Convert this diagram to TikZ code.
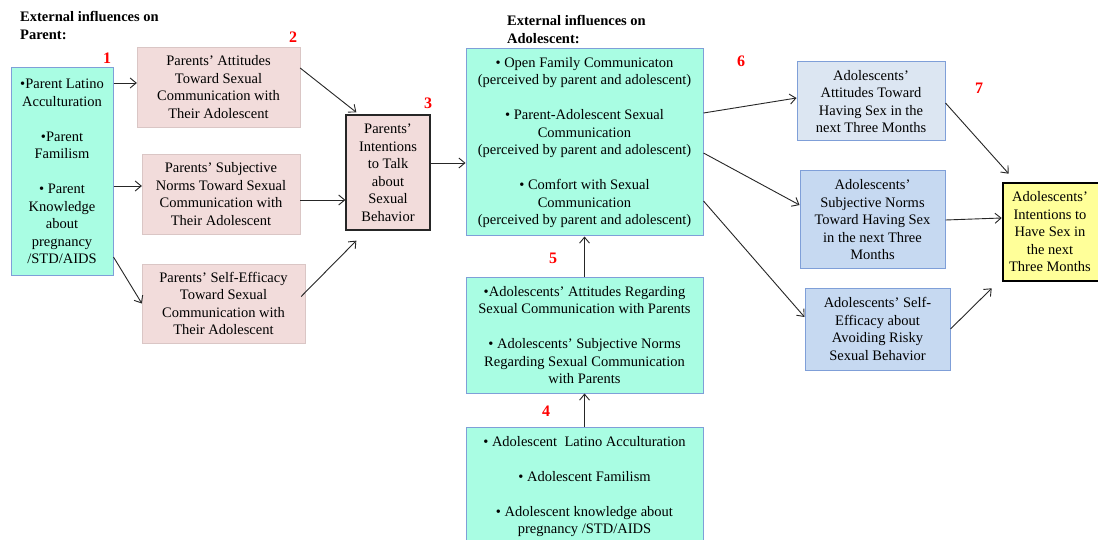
\documentclass[tikz,border=0pt]{standalone}
\usepackage{fontspec}
\setmainfont{Liberation Serif}
\usetikzlibrary{arrows.meta}
\definecolor{cyanfill}{HTML}{A9FDE3}
\definecolor{boxblue}{HTML}{7F9FD8}
\definecolor{pinkfill}{HTML}{F2DCDB}
\definecolor{lightblue}{HTML}{DCE6F2}
\definecolor{midblue}{HTML}{C6D9F1}
\definecolor{yellowfill}{HTML}{FFFF99}
\definecolor{numred}{HTML}{FF0000}
\tikzset{
  base/.style={rectangle, align=center, inner sep=0pt, font=\fontsize{14.5}{17.5}\selectfont},
  cyanbox/.style={base, fill=cyanfill, draw=boxblue, line width=1pt},
  pinkbox/.style={base, fill=pinkfill, draw=pinkfill!90!black, line width=0.3pt},
  darkbox/.style={base, fill=pinkfill, draw=black!85, line width=1.3pt},
  bluebox/.style={base, draw=boxblue, line width=1pt},
  yellowbox/.style={base, fill=yellowfill, draw=black, line width=2.6pt},
  header/.style={align=left, anchor=north west, inner sep=0pt, font=\fontsize{14.5}{18}\selectfont\bfseries},
  num/.style={text=numred, inner sep=0pt, font=\fontsize{16}{16}\selectfont\bfseries},
  conn/.style={-{Straight Barb[length=6pt,width=10pt]}, line width=0.9pt, black!85}
}
\begin{document}
\begin{tikzpicture}[x=1pt,y=-1pt]
\useasboundingbox (0,0) rectangle (1098,540);
\clip (0,0) rectangle (1098,540);
\fill[white] (0,0) rectangle (1098,540);

% headers
\node[header] (h1) at (20,11) {External influences on\\Parent:};
\node[header] (h2) at (507,15) {External influences on\\Adolescent:};

% left column
\node[cyanbox, minimum width=102pt, minimum height=207pt] (n1) at (62,171.5)
 {•Parent Latino\\Acculturation\\[17.5pt]•Parent\\Familism\\[17.5pt]• Parent\\Knowledge\\about\\pregnancy\\/STD/AIDS};

\node[pinkbox, minimum width=163pt, minimum height=80pt] (pa) at (218.5,87)
 {Parents’ Attitudes\\Toward Sexual\\Communication with\\Their Adolescent};
\node[pinkbox, minimum width=158pt, minimum height=80pt] (pb) at (221,194)
 {Parents’ Subjective\\Norms Toward Sexual\\Communication with\\Their Adolescent};
\node[pinkbox, minimum width=163pt, minimum height=79pt] (pc) at (223.5,303.5)
 {Parents’ Self-Efficacy\\Toward Sexual\\Communication with\\Their Adolescent};

\node[darkbox, minimum width=84pt, minimum height=115pt] (n3) at (388,172.5)
 {Parents’\\Intentions\\to Talk\\about\\Sexual\\Behavior};

% centre column
\node[cyanbox, minimum width=237pt, minimum height=187pt] (big) at (584.5,142.5)
 {• Open Family Communicaton\\(perceived by parent and adolescent)\\[17.5pt]• Parent-Adolescent Sexual\\Communication\\(perceived by parent and adolescent)\\[17.5pt]• Comfort with Sexual\\Communication\\(perceived by parent and adolescent)};
\node[cyanbox, minimum width=237pt, minimum height=116pt] (n5) at (584.5,335)
 {•Adolescents’ Attitudes Regarding\\Sexual Communication with Parents\\[17.5pt]• Adolescents’ Subjective Norms\\Regarding Sexual Communication\\with Parents};
\node[cyanbox, minimum width=237pt, minimum height=126pt] (n4) at (584.5,490)
 {};
\node[base, anchor=north] (n4t) at (584.5,436)
 {• Adolescent\ \ Latino Acculturation\\[17.5pt]• Adolescent Familism\\[17.5pt]• Adolescent knowledge about\\pregnancy /STD/AIDS};

% right column
\node[bluebox, fill=lightblue, minimum width=148pt, minimum height=79pt] (r1) at (871,101.5)
 {Adolescents’\\Attitudes Toward\\Having Sex in the\\next Three Months};
\node[bluebox, fill=midblue, minimum width=145pt, minimum height=98pt] (r2) at (872.5,220)
 {Adolescents’\\Subjective Norms\\Toward Having Sex\\in the next Three\\Months};
\node[bluebox, fill=midblue, minimum width=145pt, minimum height=82pt] (r3) at (877.5,329)
 {Adolescents’ Self-\\Efficacy about\\Avoiding Risky\\Sexual Behavior};
\node[yellowbox, minimum width=104pt, minimum height=98pt] (y) at (1055,232) {};
\node[base] (yt) at (1050,232)
 {Adolescents’\\Intentions to\\Have Sex in\\the next\\Three Months};

% numbers
\node[num] (l1) at (107,58) {1};
\node[num] (l2) at (293,37) {2};
\node[num] (l3) at (428,103) {3};
\node[num] (l4) at (546,411) {4};
\node[num] (l5) at (553,258) {5};
\node[num] (l6) at (741,61) {6};
\node[num] (l7) at (979,88) {7};

% connectors
\draw[conn] ([yshift=88.5pt]n1.east) -- ([yshift=4pt]pa.west);
\draw[conn] ([yshift=-14.5pt]n1.east) -- ([yshift=8pt]pb.west);
\draw[conn] ([yshift=-85.5pt]n1.east) -- (pc.west);
\draw[conn] ([yshift=19pt]pa.east) -- ([xshift=11pt,yshift=2pt]n3.north west);
\draw[conn] ([yshift=-6pt]pb.east) -- ([yshift=-27.5pt]n3.west);
\draw[conn] ([xshift=-4pt,yshift=7pt]pc.east) -- ([xshift=11pt,yshift=-10pt]n3.south west);
\draw[conn] ([yshift=9.5pt]n3.east) -- ([yshift=-20.5pt]big.west);
\draw[conn] ([yshift=29.5pt]big.east) -- ([yshift=3.5pt]r1.west);
\draw[conn] ([yshift=-10.5pt]big.east) -- ([yshift=15pt]r2.west);
\draw[conn] ([yshift=-58.5pt]big.east) -- ([yshift=12pt]r3.west);
\draw[conn] (n5.north) -- (big.south);
\draw[conn] (n4.north) -- (n5.south);
\draw[conn] ([yshift=-1.5pt]r1.east) -- ([xshift=7pt,yshift=8pt]y.north west);
\draw[conn] (r2.east) -- ([yshift=14pt]y.west);
\draw[conn] (r3.east) -- ([xshift=-10pt,yshift=-6pt]y.south west);
\end{tikzpicture}
\end{document}
